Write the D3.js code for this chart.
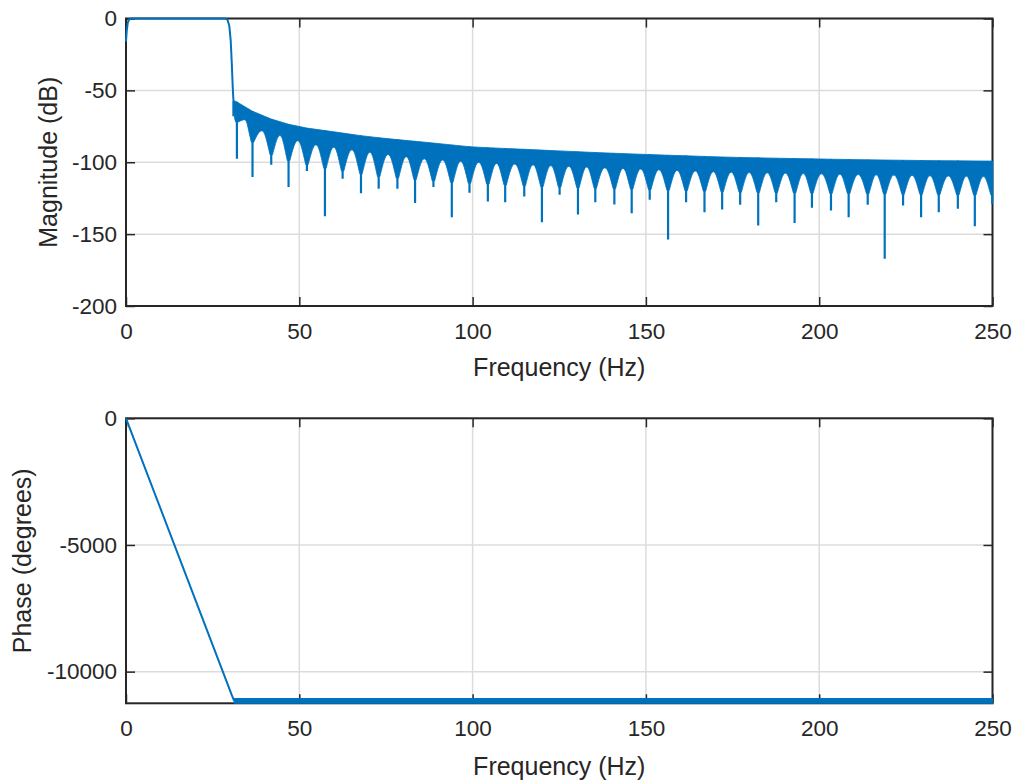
<!DOCTYPE html>
<html>
<head>
<meta charset="utf-8">
<script src="https://cdn.jsdelivr.net/npm/d3@7"></script>
<style>
    body { margin: 0; background: #fff; }
    svg text { font-family: "Liberation Sans", Arial, Helvetica, sans-serif; fill: #262626; }
</style>
</head>
<body>
<svg id="chart" width="1019" height="780"></svg>
<script>
// ---- data ----
var xTicks = [0, 50, 100, 150, 200, 250];
var magTicks = [-200, -150, -100, -50, 0];
var phaseTicks = [-10000, -5000, 0];

// passband + transition (Hz, dB)
var passFreq = [0, 0.2, 0.5, 0.9, 1.3, 28.6, 29.3, 29.8, 30.2, 30.5, 30.8, 31.0];
var passMag = [-16, -9, -3, -0.8, 0, 0, -1, -5, -15, -30, -48, -57];

// stopband: top of the dense ripple band
var envFreq = [31, 32, 35, 38, 42, 46, 50, 56, 62, 67, 75, 86, 100, 115, 137, 155, 174, 190, 211, 230, 250];
var envTop = [-57, -58, -62, -67, -70, -73, -75.5, -77.5, -79.5, -81.3, -83.5, -86, -89.4, -91, -93.4, -95, -96.5, -97.3, -98.2, -98.8, -99.2];

// stopband: tops of the white arches between the notches
var archFreq = [31.5, 34, 39, 44.5, 49.6, 55, 60, 65, 70, 86, 105, 140, 172, 210, 248];
var archTop = [-62, -70, -78, -81.5, -85, -88, -89.5, -91.3, -93, -97.6, -100.6, -104, -106.8, -108.5, -110];

// stopband: where the band narrows into a notch
var cuspFreq = [31, 32, 36.5, 42, 47, 57, 73, 94, 120, 150, 180, 215, 250];
var cuspLevel = [-67, -72, -86, -95, -99, -104, -110, -114, -117, -119, -121, -122, -123];

// notches (Hz, dB)
var dipFreq = [31.0, 32.0, 36.5, 41.9, 46.9, 52.2, 57.4, 62.5, 67.8, 72.9, 78.3, 83.4, 88.7, 94.0, 99.1,
    104.4, 109.4, 114.9, 120.0, 125.1, 130.4, 135.4, 140.9, 145.9, 151.1, 156.4, 161.6, 166.9, 172.0,
    177.2, 182.4, 187.6, 192.9, 197.9, 203.4, 208.5, 214.0, 218.9, 224.2, 229.4, 234.5, 240.0, 244.9, 249.9];
var dipDepth = [-68, -97.6, -110.3, -101.7, -117.3, -106, -137.5, -111.5, -121.5, -118.5, -118.5, -128.4, -117.3, -138.2, -121.3,
    -127.3, -127.8, -123.8, -141.7, -122.6, -136.3, -127.8, -129.4, -135.4, -126.1, -153.8, -127.8, -134.7, -132.9,
    -129.6, -144.0, -127.8, -142.2, -131.7, -133.6, -138.2, -129.6, -167.2, -130.1, -138.2, -134.7, -132.4, -144.5, -129];

// phase (Hz, degrees)
var phaseFreq = [0, 30.5, 31.2];
var phaseDeg = [0, -10920, -11150];
var phaseBandFreq = [31.2, 250];
var phaseBandTop = [-11060, -11060];
var phaseBandBottom = [-11250, -11250];

// ---- layout ----
var BLUE = '#0072BD';
var INK = '#262626';
var left = 126, right = 992.5;
var magTopY = 18.5, magBotY = 306;
var phTopY = 418.3, phBotY = 703.3;
var TICK = 9;

var svg = d3.select('#chart');

var x = d3.scaleLinear().domain([0, 250]).range([left, right]);
var yMag = d3.scaleLinear().domain([-200, 0]).range([magBotY, magTopY]);
var yPh = d3.scaleLinear().domain([-11250, 0]).range([phBotY, phTopY]);

var env = d3.scaleLinear().domain(envFreq).range(envTop).clamp(true);
var arch = d3.scaleLinear().domain(archFreq).range(archTop).clamp(true);
var cusp = d3.scaleLinear().domain(cuspFreq).range(cuspLevel).clamp(true);

// MATLAB prints a plain hyphen for negatives
var fmt = function (d) { return String(d); };
var blank = function () { return ''; };

function drawFrame(y, yTicks, yLabel, yLabelX, xLabelY, clipId) {
    var top = y.range()[1], bot = y.range()[0];
    var g = svg.append('g');

    // grid
    g.selectAll('.vgrid').data(xTicks).enter().append('line')
        .attr('x1', function (d) { return x(d); }).attr('x2', function (d) { return x(d); })
        .attr('y1', top).attr('y2', bot)
        .attr('stroke', '#dcdcdc').attr('stroke-width', 1.5);
    g.selectAll('.hgrid').data(yTicks).enter().append('line')
        .attr('x1', left).attr('x2', right)
        .attr('y1', function (d) { return y(d); }).attr('y2', function (d) { return y(d); })
        .attr('stroke', '#dcdcdc').attr('stroke-width', 1.5);

    // ticks on all four sides (pointing inward)
    var axes = [
        { a: d3.axisBottom(x).tickValues(xTicks).tickFormat(fmt), t: 'translate(0,' + bot + ')', pad: 17 },
        { a: d3.axisTop(x).tickValues(xTicks).tickFormat(blank), t: 'translate(0,' + top + ')', pad: 9 },
        { a: d3.axisLeft(y).tickValues(yTicks).tickFormat(fmt), t: 'translate(' + left + ',0)', pad: 9 },
        { a: d3.axisRight(y).tickValues(yTicks).tickFormat(blank), t: 'translate(' + right + ',0)', pad: 9 }
    ];
    axes.forEach(function (ax) {
        var sel = g.append('g').attr('transform', ax.t)
            .call(ax.a.tickSizeInner(-TICK).tickSizeOuter(0).tickPadding(ax.pad));
        sel.attr('font-family', null).attr('font-size', null);
        sel.select('.domain').remove();
        sel.selectAll('.tick line').attr('stroke', INK).attr('stroke-width', 1.5);
        sel.selectAll('.tick text').attr('fill', INK).style('font-size', '22.5px');
    });

    // box
    g.append('rect')
        .attr('x', left).attr('y', top)
        .attr('width', right - left).attr('height', bot - top)
        .attr('fill', 'none').attr('stroke', INK).attr('stroke-width', 2);

    // labels
    g.append('text')
        .attr('x', (left + right) / 2).attr('y', xLabelY)
        .attr('text-anchor', 'middle').style('font-size', '25px')
        .text('Frequency (Hz)');
    g.append('text')
        .attr('transform', 'translate(' + yLabelX + ',' + ((top + bot) / 2) + ') rotate(-90)')
        .attr('text-anchor', 'middle').style('font-size', '25px')
        .text(yLabel);

    // clip for the data, a bit larger than the box so the line can sit on it
    svg.append('clipPath').attr('id', clipId).append('rect')
        .attr('x', left - 1.5).attr('y', top - 1.5)
        .attr('width', right - left + 3).attr('height', bot - top + 3);
}

drawFrame(yMag, magTicks, 'Magnitude (dB)', 57, 376, 'clipMag');
drawFrame(yPh, phaseTicks, 'Phase (degrees)', 31, 775, 'clipPh');

// ---- magnitude ----
var mag = svg.append('g').attr('clip-path', 'url(#clipMag)');

mag.append('path')
    .datum(d3.zip(passFreq, passMag))
    .attr('fill', 'none').attr('stroke', BLUE).attr('stroke-width', 2)
    .attr('d', d3.line().x(function (d) { return x(d[0]); }).y(function (d) { return yMag(d[1]); }));

// stopband band: one cell between each pair of notches, with a rounded
// arch cut out underneath (the dense ripple reads as a solid band)
function cellPath(a, b) {
    var xL = x(a), xR = x(b), xM = (xL + xR) / 2, hw = (xR - xL) / 2;
    var tL = yMag(env(a)), tR = yMag(env(b));
    var cL = yMag(cusp(a)), cR = yMag(cusp(b));
    var yA = yMag(arch((a + b) / 2));
    var p = d3.path();
    p.moveTo(xL, tL);
    p.lineTo(xR, tR);
    p.lineTo(xR, cR);
    p.lineTo(xR - 1.2, cR);
    p.bezierCurveTo(xR - 4.5, cR - 0.6 * (cR - yA), xM + 0.3 * hw, yA, xM, yA);
    p.bezierCurveTo(xM - 0.3 * hw, yA, xL + 4.5, cL - 0.6 * (cL - yA), xL + 1.2, cL);
    p.lineTo(xL, cL);
    p.closePath();
    return p.toString();
}

var cells = d3.pairs(dipFreq);
mag.selectAll('.cell').data(cells).enter().append('path')
    .attr('class', 'cell')
    .attr('d', function (d) { return cellPath(d[0], d[1]); })
    .attr('fill', BLUE).attr('stroke', BLUE).attr('stroke-width', 0.8)
    .attr('stroke-linejoin', 'round');

mag.selectAll('.dip').data(d3.zip(dipFreq, dipDepth)).enter().append('line')
    .attr('class', 'dip')
    .attr('x1', function (d) { return x(d[0]); }).attr('x2', function (d) { return x(d[0]); })
    .attr('y1', function (d) { return yMag(env(d[0])); })
    .attr('y2', function (d) { return yMag(d[1]); })
    .attr('stroke', BLUE).attr('stroke-width', 2.2);

// ---- phase ----
var ph = svg.append('g').attr('clip-path', 'url(#clipPh)');

ph.append('path')
    .datum(d3.zip(phaseFreq, phaseDeg))
    .attr('fill', 'none').attr('stroke', BLUE).attr('stroke-width', 2)
    .attr('stroke-linejoin', 'round')
    .attr('d', d3.line().x(function (d) { return x(d[0]); }).y(function (d) { return yPh(d[1]); }));

ph.append('path')
    .datum(d3.zip(phaseBandFreq, phaseBandTop, phaseBandBottom))
    .attr('fill', BLUE).attr('stroke', BLUE).attr('stroke-width', 1)
    .attr('d', d3.area()
        .x(function (d) { return x(d[0]); })
        .y0(function (d) { return yPh(d[2]); })
        .y1(function (d) { return yPh(d[1]); }));
</script>
</body>
</html>
